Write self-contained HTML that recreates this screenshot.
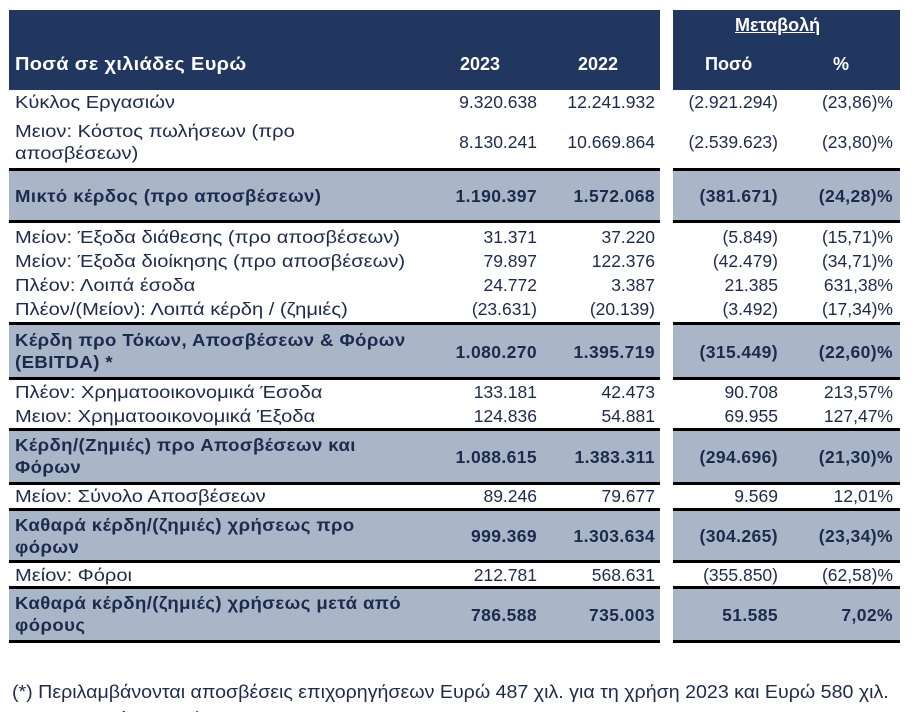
<!DOCTYPE html>
<html><head><meta charset="utf-8"><style>
html,body{margin:0;padding:0;width:922px;height:712px;overflow:hidden}
#wrap{position:relative;width:922px;height:712px;overflow:hidden;background:#fff;font-family:"Liberation Sans","DejaVu Sans",sans-serif;color:#1c2a4c}
.a{position:absolute}
.hd{background:#22375f}
.g{background:#aab6c8}
.ln{position:absolute;height:3px;background:#000}
.t{position:absolute;font-size:17.5px;white-space:nowrap;line-height:22px}
.b{font-weight:bold;letter-spacing:0.4px}
.r{text-align:right}
.w{color:#fff;font-weight:bold;font-size:18px}
.l{transform:scaleX(1.15);transform-origin:0 0}
.l.b{transform:scaleX(1.06)}
</style></head><body><div id="wrap">
<div class="a hd" style="left:9px;top:10px;width:651px;height:80px"></div>
<div class="a hd" style="left:673px;top:10px;width:227px;height:80px"></div>
<div class="t w" style="left:15px;top:53px;letter-spacing:0.3px;transform:scaleX(1.11);transform-origin:0 0">Ποσά σε χιλιάδες Ευρώ</div>
<div class="t w" style="left:460px;top:53px">2023</div>
<div class="t w" style="left:578px;top:53px">2022</div>
<div class="t w" style="left:705px;top:53px">Ποσό</div>
<div class="t w" style="left:833px;top:53px">%</div>
<div class="t w" style="left:735px;top:14px;text-decoration:underline">Μεταβολή</div>

<div class="a g" style="left:9px;top:170px;width:651px;height:50px"></div><div class="a g" style="left:673px;top:170px;width:227px;height:50px"></div>
<div class="a g" style="left:9px;top:324px;width:651px;height:53px"></div><div class="a g" style="left:673px;top:324px;width:227px;height:53px"></div>
<div class="a g" style="left:9px;top:430px;width:651px;height:52px"></div><div class="a g" style="left:673px;top:430px;width:227px;height:52px"></div>
<div class="a g" style="left:9px;top:510px;width:651px;height:50px"></div><div class="a g" style="left:673px;top:510px;width:227px;height:50px"></div>
<div class="a g" style="left:9px;top:588px;width:651px;height:52px"></div><div class="a g" style="left:673px;top:588px;width:227px;height:52px"></div>

<div class="ln" style="left:9px;top:168px;width:651px"></div><div class="ln" style="left:673px;top:168px;width:227px"></div>
<div class="ln" style="left:9px;top:220px;width:651px"></div><div class="ln" style="left:673px;top:220px;width:227px"></div>
<div class="ln" style="left:9px;top:322px;width:651px"></div><div class="ln" style="left:673px;top:322px;width:227px"></div>
<div class="ln" style="left:9px;top:377px;width:651px"></div><div class="ln" style="left:673px;top:377px;width:227px"></div>
<div class="ln" style="left:9px;top:428px;width:651px"></div><div class="ln" style="left:673px;top:428px;width:227px"></div>
<div class="ln" style="left:9px;top:482px;width:651px"></div><div class="ln" style="left:673px;top:482px;width:227px"></div>
<div class="ln" style="left:9px;top:508px;width:651px"></div><div class="ln" style="left:673px;top:508px;width:227px"></div>
<div class="ln" style="left:9px;top:560px;width:651px"></div><div class="ln" style="left:673px;top:560px;width:227px"></div>
<div class="ln" style="left:9px;top:586px;width:651px"></div><div class="ln" style="left:673px;top:586px;width:227px"></div>
<div class="ln" style="left:9px;top:640px;width:651px"></div><div class="ln" style="left:673px;top:640px;width:227px"></div>

<div class="t l" style="left:15px;top:91px">Κύκλος Εργασιών</div>
<div class="t r" style="right:385px;top:91px">9.320.638</div><div class="t r" style="right:267px;top:91px">12.241.932</div><div class="t r" style="right:144px;top:91px">(2.921.294)</div><div class="t r" style="right:29px;top:91px">(23,86)%</div>

<div class="t l" style="left:15px;top:120px">Μειον: Κόστος πωλήσεων (προ</div>
<div class="t l" style="left:15px;top:142px">αποσβέσεων)</div>
<div class="t r" style="right:385px;top:131px">8.130.241</div><div class="t r" style="right:267px;top:131px">10.669.864</div><div class="t r" style="right:144px;top:131px">(2.539.623)</div><div class="t r" style="right:29px;top:131px">(23,80)%</div>

<div class="t b l" style="left:15px;top:185px">Μικτό κέρδος (προ αποσβέσεων)</div>
<div class="t r b" style="right:385px;top:185px">1.190.397</div><div class="t r b" style="right:267px;top:185px">1.572.068</div><div class="t r b" style="right:144px;top:185px">(381.671)</div><div class="t r b" style="right:29px;top:185px">(24,28)%</div>

<div class="t l" style="left:15px;top:226px">Μείον: Έξοδα διάθεσης (προ αποσβέσεων)</div>
<div class="t r" style="right:385px;top:226px">31.371</div><div class="t r" style="right:267px;top:226px">37.220</div><div class="t r" style="right:144px;top:226px">(5.849)</div><div class="t r" style="right:29px;top:226px">(15,71)%</div>

<div class="t l" style="left:15px;top:250px">Μείον: Έξοδα διοίκησης (προ αποσβέσεων)</div>
<div class="t r" style="right:385px;top:250px">79.897</div><div class="t r" style="right:267px;top:250px">122.376</div><div class="t r" style="right:144px;top:250px">(42.479)</div><div class="t r" style="right:29px;top:250px">(34,71)%</div>

<div class="t l" style="left:15px;top:274px">Πλέον: Λοιπά έσοδα</div>
<div class="t r" style="right:385px;top:274px">24.772</div><div class="t r" style="right:267px;top:274px">3.387</div><div class="t r" style="right:144px;top:274px">21.385</div><div class="t r" style="right:29px;top:274px">631,38%</div>

<div class="t l" style="left:15px;top:298px">Πλέον/(Μείον): Λοιπά κέρδη / (ζημιές)</div>
<div class="t r" style="right:385px;top:298px">(23.631)</div><div class="t r" style="right:267px;top:298px">(20.139)</div><div class="t r" style="right:144px;top:298px">(3.492)</div><div class="t r" style="right:29px;top:298px">(17,34)%</div>

<div class="t b l" style="left:15px;top:329px">Κέρδη προ Τόκων, Αποσβέσεων &amp; Φόρων</div>
<div class="t b l" style="left:15px;top:351px">(EBITDA) *</div>
<div class="t r b" style="right:385px;top:341px">1.080.270</div><div class="t r b" style="right:267px;top:341px">1.395.719</div><div class="t r b" style="right:144px;top:341px">(315.449)</div><div class="t r b" style="right:29px;top:341px">(22,60)%</div>

<div class="t l" style="left:15px;top:381px">Πλέον: Χρηματοοικονομικά Έσοδα</div>
<div class="t r" style="right:385px;top:381px">133.181</div><div class="t r" style="right:267px;top:381px">42.473</div><div class="t r" style="right:144px;top:381px">90.708</div><div class="t r" style="right:29px;top:381px">213,57%</div>

<div class="t l" style="left:15px;top:405px">Μειον: Χρηματοοικονομικά Έξοδα</div>
<div class="t r" style="right:385px;top:405px">124.836</div><div class="t r" style="right:267px;top:405px">54.881</div><div class="t r" style="right:144px;top:405px">69.955</div><div class="t r" style="right:29px;top:405px">127,47%</div>

<div class="t b l" style="left:15px;top:434px">Κέρδη/(Ζημιές) προ Αποσβέσεων και</div>
<div class="t b l" style="left:15px;top:456px">Φόρων</div>
<div class="t r b" style="right:385px;top:446px">1.088.615</div><div class="t r b" style="right:267px;top:446px">1.383.311</div><div class="t r b" style="right:144px;top:446px">(294.696)</div><div class="t r b" style="right:29px;top:446px">(21,30)%</div>

<div class="t l" style="left:15px;top:485px">Μείον: Σύνολο Αποσβέσεων</div>
<div class="t r" style="right:385px;top:485px">89.246</div><div class="t r" style="right:267px;top:485px">79.677</div><div class="t r" style="right:144px;top:485px">9.569</div><div class="t r" style="right:29px;top:485px">12,01%</div>

<div class="t b l" style="left:15px;top:514px">Καθαρά κέρδη/(ζημιές) χρήσεως προ</div>
<div class="t b l" style="left:15px;top:536px">φόρων</div>
<div class="t r b" style="right:385px;top:525px">999.369</div><div class="t r b" style="right:267px;top:525px">1.303.634</div><div class="t r b" style="right:144px;top:525px">(304.265)</div><div class="t r b" style="right:29px;top:525px">(23,34)%</div>

<div class="t l" style="left:15px;top:564px">Μείον: Φόροι</div>
<div class="t r" style="right:385px;top:564px">212.781</div><div class="t r" style="right:267px;top:564px">568.631</div><div class="t r" style="right:144px;top:564px">(355.850)</div><div class="t r" style="right:29px;top:564px">(62,58)%</div>

<div class="t b l" style="left:15px;top:592px">Καθαρά κέρδη/(ζημιές) χρήσεως μετά από</div>
<div class="t b l" style="left:15px;top:614px">φόρους</div>
<div class="t r b" style="right:385px;top:604px">786.588</div><div class="t r b" style="right:267px;top:604px">735.003</div><div class="t r b" style="right:144px;top:604px">51.585</div><div class="t r b" style="right:29px;top:604px">7,02%</div>

<div class="t" style="left:12px;top:681px;font-size:18px;transform:scaleX(1.09);transform-origin:0 0">(*) Περιλαμβάνονται αποσβέσεις επιχορηγήσεων Ευρώ 487 χιλ. για τη χρήση 2023 και Ευρώ 580 χιλ.</div>
<div class="t" style="left:12px;top:708px;font-size:18px;transform:scaleX(1.09);transform-origin:0 0">για τη συγκρίσιμη χρήση 2022.</div>
</div></body></html>
